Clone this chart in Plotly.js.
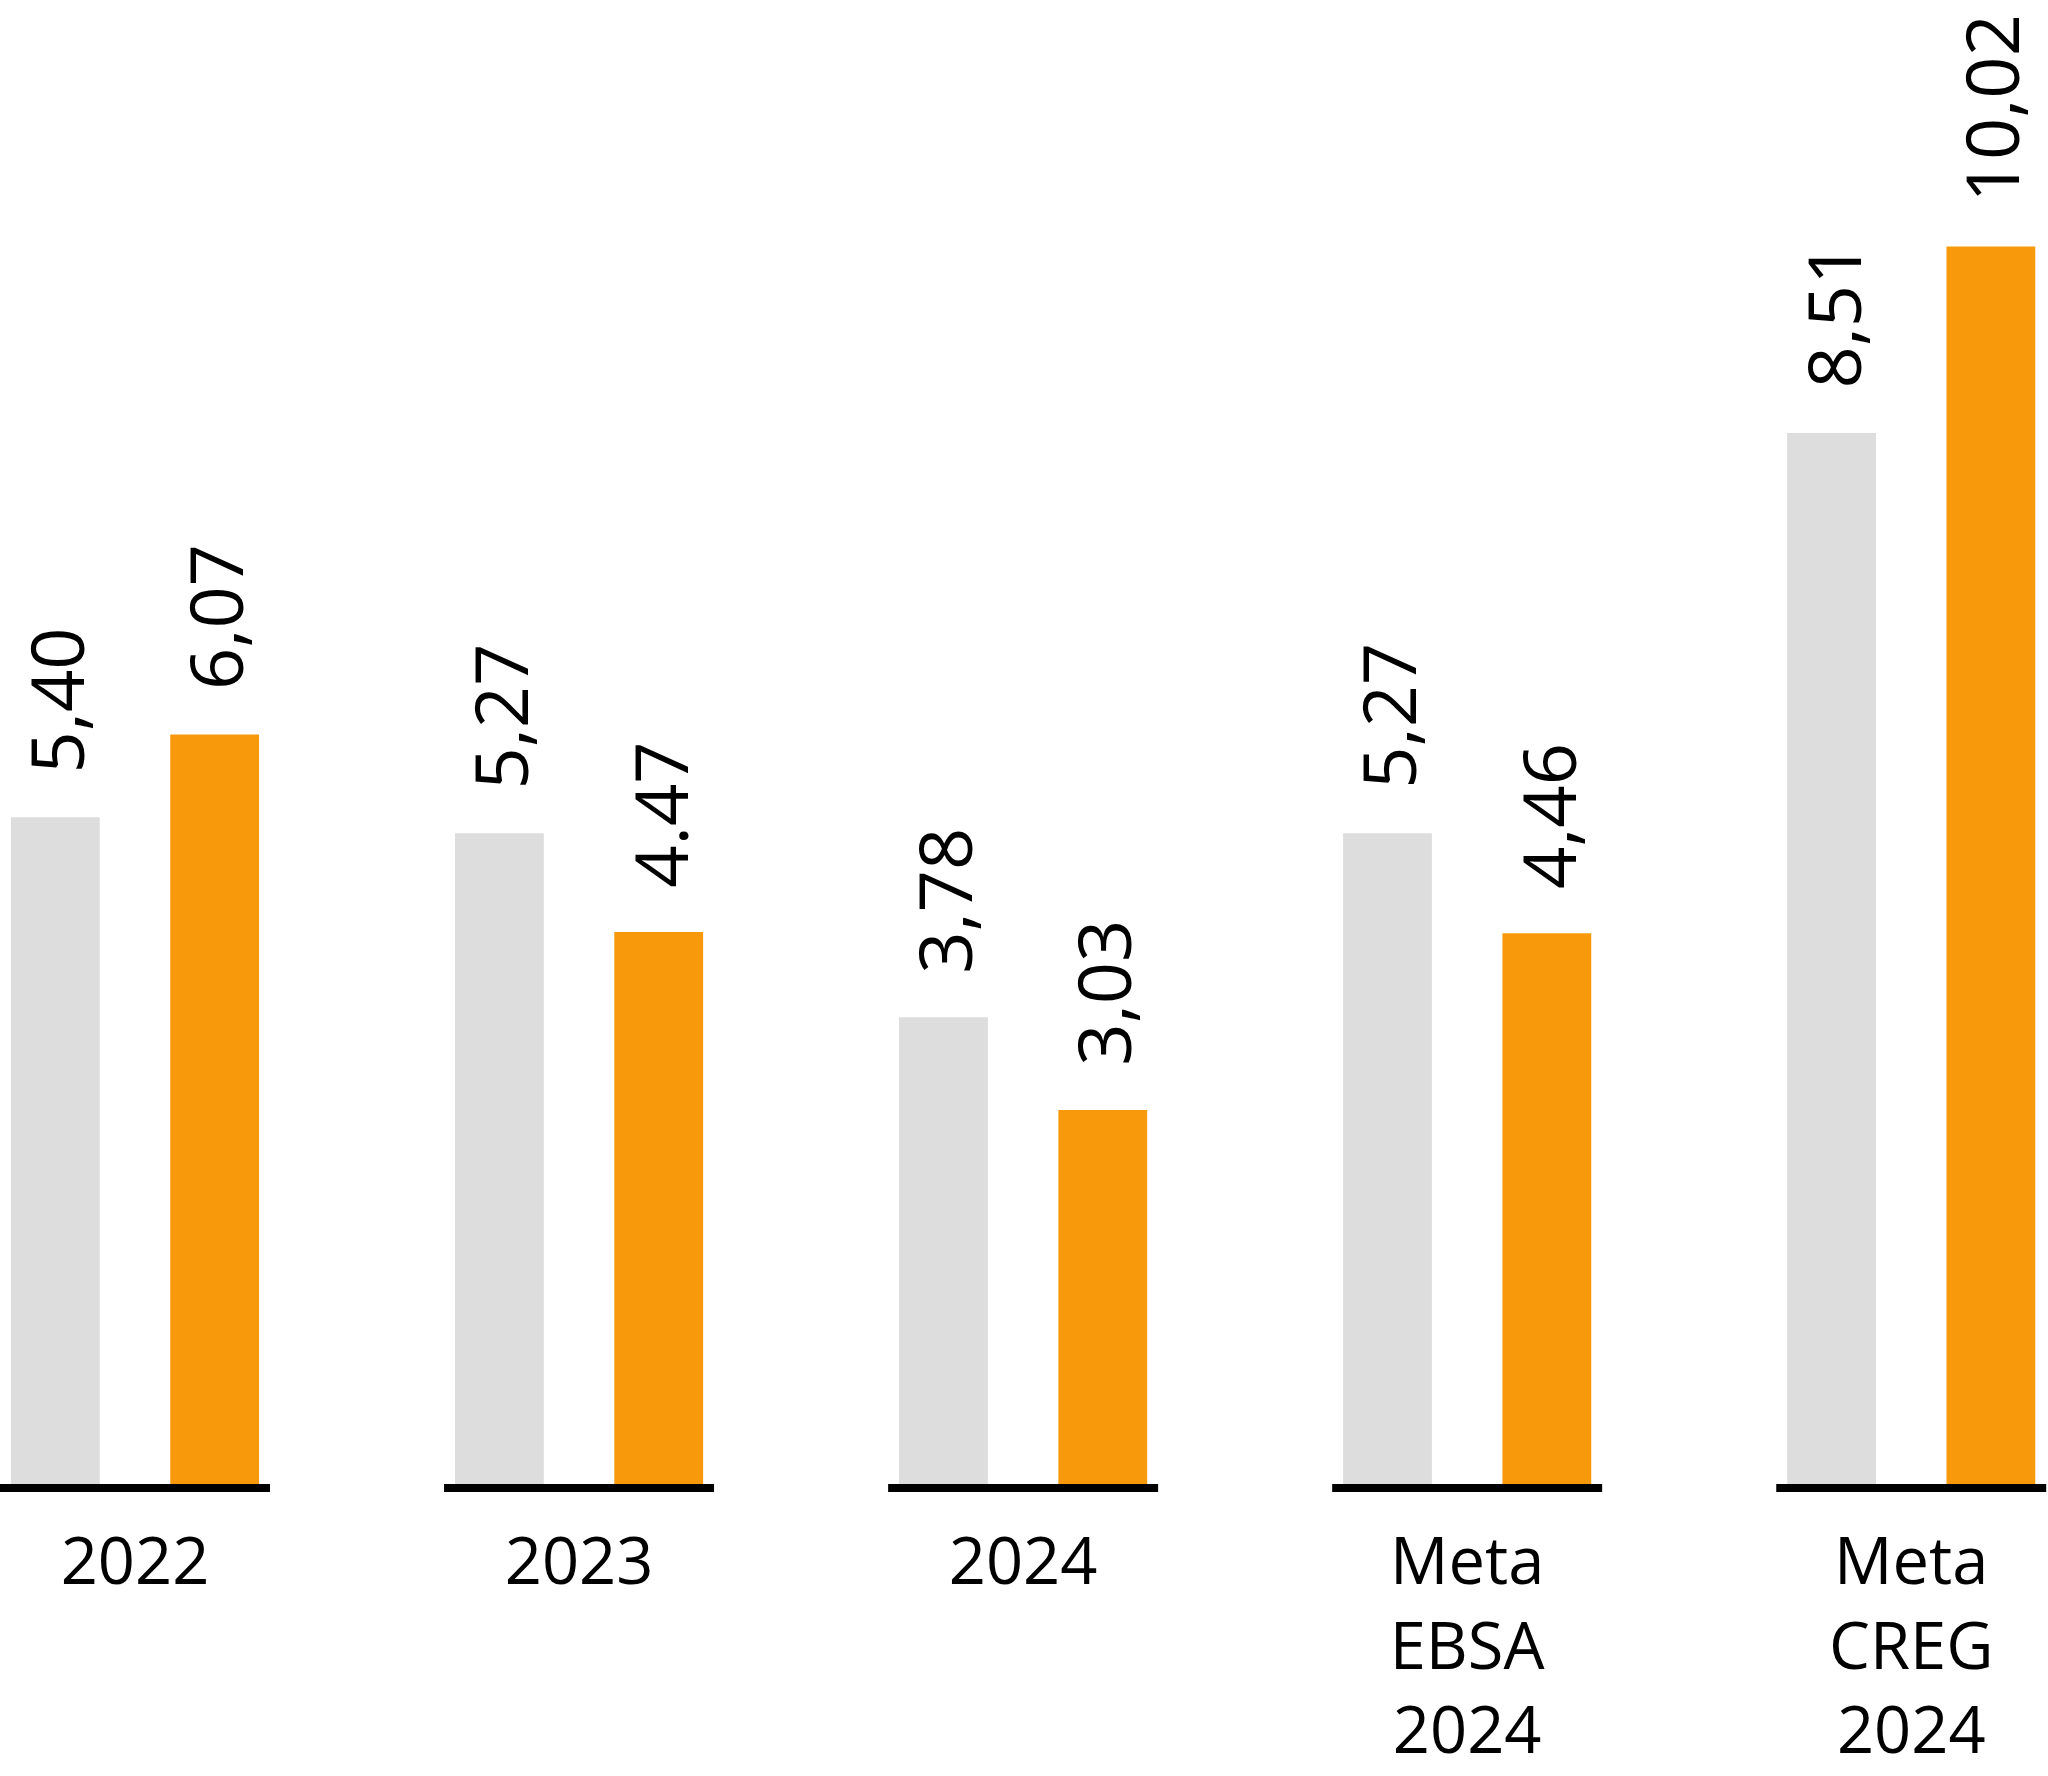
<!DOCTYPE html>
<html>
<head>
<meta charset="utf-8">
<script src="https://cdn.plot.ly/plotly-3.0.1.min.js"></script>
<style>
  html, body { margin: 0; padding: 0; background: #ffffff; }
  #chart { width: 2048px; height: 1776px; }
</style>
</head>
<body>
<div id="chart"></div>
<script>
// categories and values
var categories = ['2022', '2023', '2024', 'Meta<br>EBSA<br>2024', 'Meta<br>CREG<br>2024'];
var grayValues = [5.40, 5.27, 3.78, 5.27, 8.51];
var orangeValues = [6.07, 4.47, 3.03, 4.46, 10.02];
var grayLabels = ['5,40', '5,27', '3,78', '5,27', '8,51'];
var orangeLabels = ['6,07', '4.47', '3,03', '4,46', '10,02'];

var GRAY = '#DDDDDD';
var ORANGE = '#F7990B';
var FONT = 'Open Sans, Liberation Sans, sans-serif';

var bargap = 0.2824;
var bargroupgap = 0.4426;

var xs = categories.map(function (c, i) { return i; });

var grayTrace = {
  type: 'bar',
  x: xs,
  y: grayValues,
  marker: { color: GRAY },
  hoverinfo: 'skip'
};

var orangeTrace = {
  type: 'bar',
  x: xs,
  y: orangeValues,
  marker: { color: ORANGE },
  hoverinfo: 'skip'
};

// offset of each bar from the group centre
var slot = (1 - bargap) / 2;
var offset = slot / 2;

var annotations = [];
function addLabels(values, labels, dx) {
  for (var i = 0; i < values.length; i++) {
    annotations.push({
      x: i + dx,
      y: values[i],
      xref: 'x',
      yref: 'y',
      text: labels[i],
      textangle: -90,
      showarrow: false,
      xanchor: 'center',
      yanchor: 'bottom',
      yshift: 42,
      font: { family: FONT, size: 74, color: '#000000' }
    });
  }
}
addLabels(grayValues, grayLabels, -offset);
addLabels(orangeValues, orangeLabels, offset);

// black base segment under each group
var shapes = xs.map(function (i) {
  return {
    type: 'rect',
    xref: 'x',
    yref: 'y',
    ysizemode: 'pixel',
    yanchor: 0,
    x0: i - 0.304,
    x1: i + 0.304,
    y0: -8,
    y1: 0,
    fillcolor: '#000000',
    line: { width: 0 }
  };
});

var layout = {
  width: 2048,
  height: 1776,
  margin: { l: 0, r: 0, t: 0, b: 282 },
  paper_bgcolor: '#ffffff',
  plot_bgcolor: '#ffffff',
  showlegend: false,
  barmode: 'group',
  bargap: bargap,
  bargroupgap: bargroupgap,
  xaxis: {
    range: [-0.304, 4.308],
    tickvals: xs,
    ticktext: categories,
    ticks: '',
    showgrid: false,
    zeroline: false,
    showline: false,
    ticklabelstandoff: 24,
    tickfont: { family: FONT, size: 65, color: '#000000' }
  },
  yaxis: {
    range: [-0.08, 12.016],
    visible: false,
    showgrid: false,
    zeroline: false
  },
  annotations: annotations,
  shapes: shapes
};

Plotly.newPlot('chart', [grayTrace, orangeTrace], layout, { staticPlot: true });
</script>
</body>
</html>
